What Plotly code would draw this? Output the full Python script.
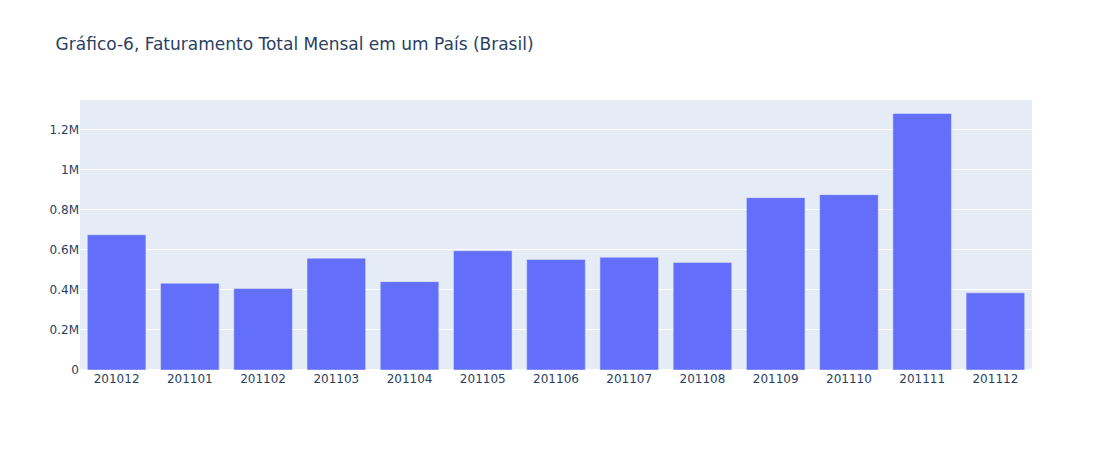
import plotly.graph_objects as go

meses = ["201012", "201101", "201102", "201103", "201104", "201105", "201106",
         "201107", "201108", "201109", "201110", "201111", "201112"]
faturamento = [675000, 433000, 407000, 558000, 441000, 595000, 552000,
               563000, 537000, 860000, 875000, 1280000, 385000]

fig = go.Figure(go.Bar(x=meses, y=faturamento))
fig.update_layout(
    title="Gráfico-6, Faturamento Total Mensal em um País (Brasil)",
    width=1112, height=450,
    font=dict(family="DejaVu Sans"),
    xaxis=dict(type="category"),
)
fig.write_html("out.html", config={"displayModeBar": False},
               post_script="document.body.style.margin='0';")
